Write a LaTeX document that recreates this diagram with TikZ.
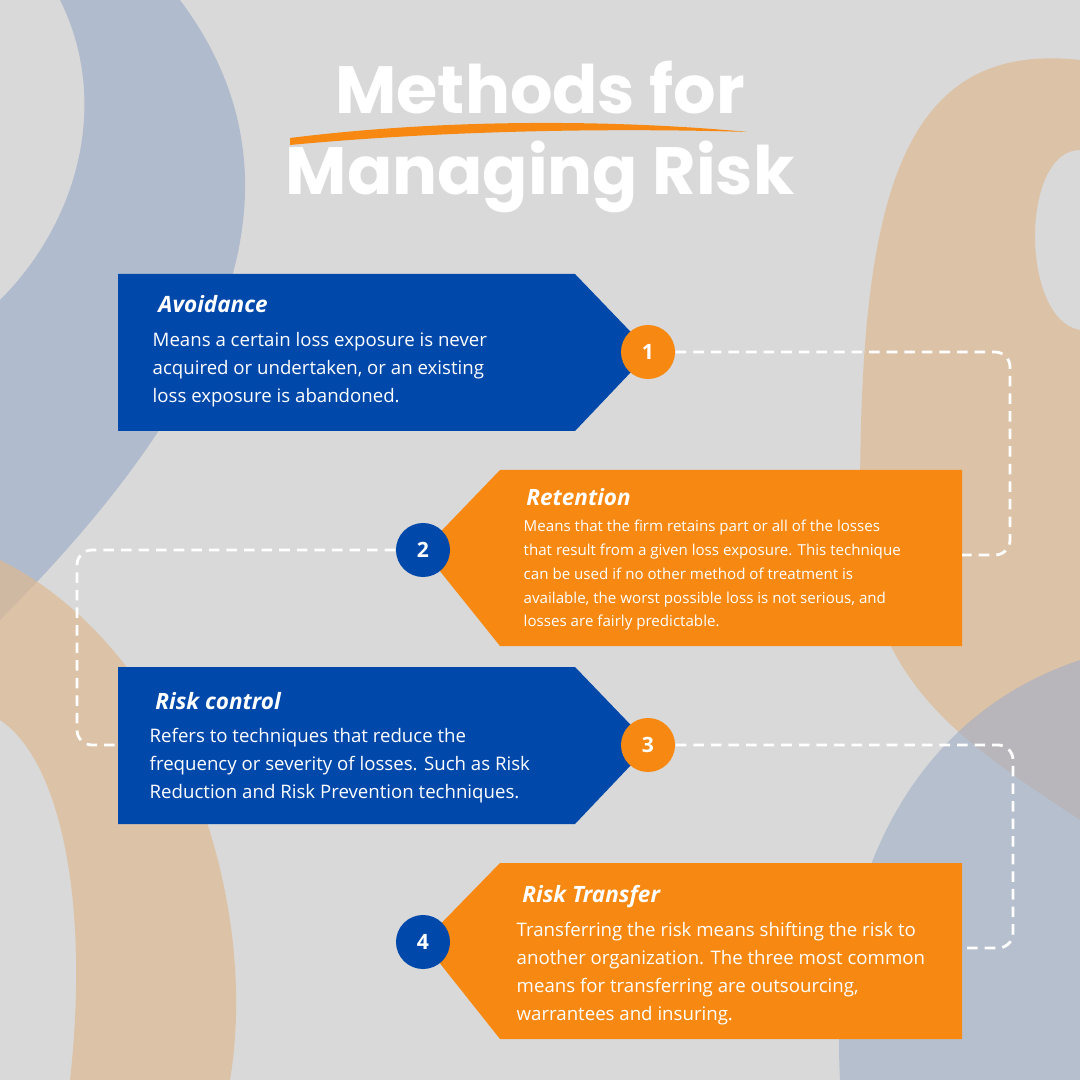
\documentclass[tikz,border=0pt]{standalone}
\usepackage{fontspec}
\setmainfont{Open Sans}
\newfontfamily\titlefont{Poppins}
\usetikzlibrary{positioning}
\definecolor{bggray}{RGB}{217,217,217}
\definecolor{stepblue}{RGB}{0,72,170}
\definecolor{steporange}{RGB}{247,137,18}
\definecolor{bandblue}{RGB}{160,175,200}
\definecolor{bandorange}{RGB}{222,185,145}
\tikzset{
  numdot/.style={circle, minimum size=0.54cm, inner sep=0pt, text=white,
    font=\bfseries\fontsize{6}{7}\selectfont},
  steptitle/.style={anchor=west, text=white, font=\bfseries\itshape\fontsize{6.4}{8}\selectfont},
  steptext/.style={anchor=north west, text=white, align=left, inner sep=0pt,
    font=\fontsize{5.3}{7.9}\selectfont},
  smalltext/.style={steptext, font=\fontsize{4.3}{6.8}\selectfont},
  link/.style={white, line width=0.8pt, dash pattern=on 3pt off 2pt, rounded corners=0.15cm},
}
\begin{document}
\begin{tikzpicture}[x=0.01cm, y=-0.01cm]

  % background
  \fill[bggray] (0,0) rectangle (1080,1080);
  \useasboundingbox (0,0) rectangle (1080,1080);
  \begin{scope}
    \clip (0,0) rectangle (1080,1080);
    \fill[bandblue, opacity=0.7] (180,0) .. controls (330,200) and (200,420) .. (0,620)
      -- (0,300) .. controls (80,220) and (110,100) .. (60,0) -- cycle;
    \fill[bandorange, opacity=0.7] (0,560) .. controls (180,650) and (260,900) .. (230,1080)
      -- (70,1080) .. controls (90,900) and (60,760) .. (0,720) -- cycle;
    \fill[bandorange, opacity=0.7] (1080,60) .. controls (900,40) and (860,200) .. (860,500)
      .. controls (860,680) and (960,740) .. (1080,820) -- (1080,330)
      .. controls (1020,320) and (1020,150) .. (1080,150) -- cycle;
    \fill[bandblue, opacity=0.6] (1080,660) .. controls (900,720) and (830,900) .. (840,1080)
      -- (1080,1080) -- cycle;
  \end{scope}

  % title
  \node[text=white, font=\titlefont\bfseries\fontsize{19}{22}\selectfont] (title1) at (540,88) {Methods for};
  \fill[steporange] (290,138) .. controls (450,118) and (620,120) .. (748,132)
    .. controls (620,128) and (450,130) .. (290,145) -- cycle;
  \node[text=white, font=\titlefont\bfseries\fontsize{19}{22}\selectfont] (title2) at (540,177) {Managing Risk};

  % step boxes
  \fill[stepblue] (118,274) -- (575,274) -- (650,352) -- (575,431) -- (118,431) -- cycle;
  \fill[steporange] (962,470) -- (500,470) -- (423,550) -- (500,646) -- (962,646) -- cycle;
  \fill[stepblue] (118,667) -- (575,667) -- (650,745) -- (575,824) -- (118,824) -- cycle;
  \fill[steporange] (962,863) -- (500,863) -- (423,942) -- (500,1039) -- (962,1039) -- cycle;

  \coordinate (box1) at (118,352);
  \coordinate (box2) at (962,555);
  \coordinate (box3) at (118,745);
  \coordinate (box4) at (962,948);

  % numbers
  \node[numdot, fill=steporange] (n1) at (648,352) {1};
  \node[numdot, fill=stepblue] (n2) at (423,550) {2};
  \node[numdot, fill=steporange] (n3) at (648,745) {3};
  \node[numdot, fill=stepblue] (n4) at (423,942) {4};

  % dashed links
  \draw[link] (n1.east) -- (1010,352) -- (1010,555) -- (box2);
  \draw[link] (n2.west) -- (77,550) -- (77,745) -- (box3);
  \draw[link] (n3.east) -- (1013,745) -- (1013,948) -- (box4);

  % texts
  \node[steptitle] (t1) at (146,304) {Avoidance};
  \node[steptext] (d1) at (152,332) {Means a certain loss exposure is never\\acquired or undertaken, or an existing\\loss exposure is abandoned.};
  \node[steptitle] (t2) at (514,497) {Retention};
  \node[smalltext] (d2) at (523,519) {Means that the firm retains part or all of the losses\\that result from a given loss exposure. This technique\\can be used if no other method of treatment is\\available, the worst possible loss is not serious, and\\losses are fairly predictable.};
  \node[steptitle] (t3) at (143,701) {Risk control};
  \node[steptext] (d3) at (149,728) {Refers to techniques that reduce the\\frequency or severity of losses. Such as Risk\\Reduction and Risk Prevention techniques.};
  \node[steptitle] (t4) at (510,897) {Risk Transfer};
  \node[steptext] (d4) at (516,922) {Transferring the risk means shifting the risk to\\another organization. The three most common\\means for transferring are outsourcing,\\warrantees and insuring.};

\end{tikzpicture}
\end{document}
